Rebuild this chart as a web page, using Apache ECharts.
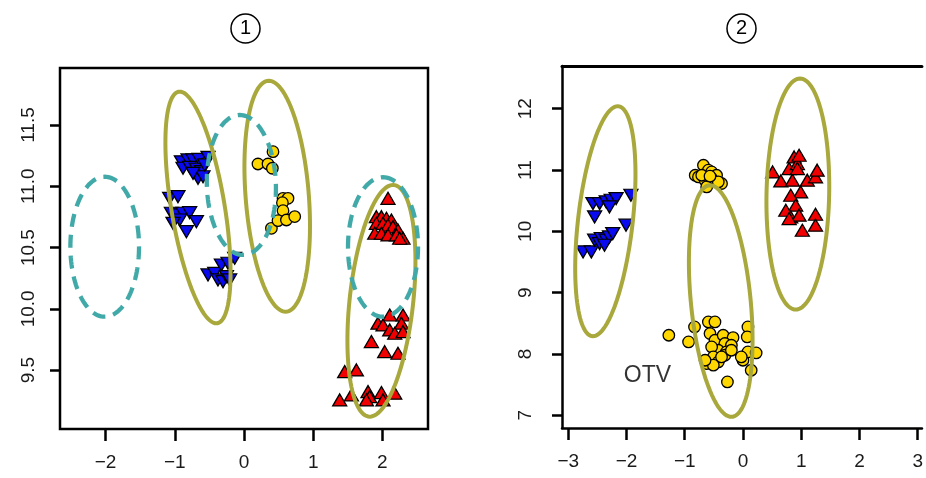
<!DOCTYPE html>
<html>
<head>
<meta charset="utf-8">
<script src="https://cdn.jsdelivr.net/npm/echarts@6/dist/echarts.min.js"></script>
<style>html,body{margin:0;padding:0;background:#fff;}#c{width:926px;height:478px;}</style>
</head>
<body>
<div id="c"></div>
<script>
// ---------- Panel 1 data ----------
const p1Blue = [
  [-0.905,11.20],[-0.809,11.215],[-0.737,11.215],[-0.650,11.22],[-0.520,11.236],
  [-0.881,11.147],[-0.785,11.155],[-0.688,11.139],[-0.616,11.119],[-0.665,11.065],
  [-0.592,11.078],[-0.737,11.106],[-0.568,11.174],
  [-1.074,10.902],[-0.954,10.915],[-1.049,10.78],[-0.977,10.766],[-0.881,10.78],
  [-0.785,10.785],[-0.688,10.711],[-0.832,10.63],[-0.929,10.725],[-1.026,10.698],
  [-0.520,10.277],[-0.423,10.29],[-0.327,10.358],[-0.231,10.372],[-0.134,10.413],
  [-0.376,10.236],[-0.303,10.222],[-0.254,10.263],[-0.207,10.236]
];
const p1Yellow = [
  [0.419,11.282],[0.202,11.182],[0.347,11.182],[0.410,11.147],
  [0.564,10.902],[0.636,10.902],[0.555,10.866],[0.564,10.801],
  [0.396,10.657],[0.491,10.72],[0.613,10.725],[0.733,10.753]
];
const p1Red = [
  [2.081,10.902],
  [1.913,10.752],[1.986,10.752],[2.058,10.739],[2.130,10.725],[1.913,10.698],
  [2.009,10.698],[2.081,10.684],[2.153,10.670],[2.225,10.644],[2.298,10.576],
  [1.889,10.617],[1.986,10.617],[2.081,10.603],[2.202,10.603],[2.250,10.576],
  [2.106,9.950],[2.298,9.950],[1.936,9.883],[2.009,9.869],[2.275,9.883],
  [2.106,9.828],[2.178,9.801],[2.298,9.814],[1.841,9.733],[2.033,9.651],[2.225,9.638],
  [1.455,9.488],[1.624,9.502],[1.383,9.257],[1.552,9.298],[1.792,9.325],
  [1.816,9.284],[1.986,9.317],[2.178,9.312],[2.009,9.257],[1.769,9.257]
];
// ellipses: [centerX, centerY, axisU_x, axisU_y, axisV_x, axisV_y]
const p1Solid = [
  [-0.665,10.827,-0.264,0.945,0.390,0],
  [0.480,10.919,-0.121,0.942,0.458,0],
  [1.986,10.066,0.168,0.945,0.462,0]
];
const p1Dashed = [
  [-2.013,10.507,0,0.571,0.496,0],
  [-0.038,11.011,-0.024,0.571,0.499,0],
  [2.009,10.505,0,0.569,0.506,0]
];
const p1XTicks = [-2,-1,0,1,2];
const p1YTicks = [9.5,10,10.5,11,11.5];

// ---------- Panel 2 data ----------
const p2Blue = [
  [-2.576,10.453],[-2.462,10.453],[-2.348,10.480],[-2.263,10.507],[-2.178,10.535],
  [-1.924,10.589],[-2.547,10.235],[-2.292,10.398],[-2.008,10.100],
  [-2.745,9.664],[-2.603,9.664],[-2.547,9.855],[-2.462,9.801],[-2.433,9.883],
  [-2.348,9.855],[-2.292,9.909],[-2.236,9.964],[-2.377,9.773]
];
const p2Yellow = [
  [-0.820,10.915],[-0.679,11.078],[-0.594,10.997],[-0.538,10.969],[-0.453,10.915],
  [-0.368,10.780],[-0.764,10.888],[-0.651,10.834],[-0.538,10.861],[-0.424,10.806],
  [-0.623,10.725],[-0.708,10.915],[-0.566,10.899],
  [-1.273,8.305],[-0.934,8.196],[-0.832,8.441],[-0.594,8.522],[-0.481,8.522],
  [-0.566,8.333],[-0.481,8.223],[-0.340,8.305],[-0.170,8.267],[-0.311,8.170],
  [-0.424,8.060],[-0.538,8.114],[-0.199,8.142],[-0.284,8.033],[-0.311,7.979],
  [-0.509,7.951],[-0.424,7.870],[-0.623,7.843],[-0.509,7.816],[-0.651,7.897],
  [0.000,7.897],[0.085,8.033],[0.085,8.441],[0.073,8.277],[0.226,8.016],
  [0.141,7.734],[-0.267,7.543],[-0.199,8.060],[-0.368,7.951],[-0.029,7.951]
];
const p2Red = [
  [0.509,10.969],[0.650,10.822],[0.793,11.024],[0.878,11.214],[0.934,11.106],
  [0.963,11.241],[0.849,10.834],[1.104,10.834],[1.245,10.888],[1.273,10.997],
  [0.990,10.643],[0.820,10.589],[0.905,10.426],[0.735,10.344],[0.820,10.235],
  [0.963,10.263],[1.245,10.279],[1.245,10.100],[1.019,10.018],[0.793,10.209],
  [0.934,11.024]
];
const p2Solid = [
  [-2.363,10.165,0.212,1.876,0.472,0],
  [-0.382,8.863,-0.183,1.889,0.515,0],
  [0.942,10.608,0.037,1.884,0.538,0]
];
const p2Label = [[-1.64,7.65,'OTV']];
const p2XTicks = [-3,-2,-1,0,1,2,3];
const p2YTicks = [7,8,9,10,11,12];
const titles = ['1','2'];

// ---------- styles ----------
const FONT = 'Liberation Sans';
const OLIVE = '#a8a83c';
const TEAL = '#42a9a9';
const LBL = '#1a1a1a';
const minus = v => String(v).replace('-', '\u2212');

function ellipseSeries(data, xi, dashed) {
  return {
    type: 'custom', xAxisIndex: xi, yAxisIndex: xi, data: data, z: 5,
    encode: {x: 0, y: 1}, silent: true,
    renderItem: function (params, api) {
      const cx = api.value(0), cy = api.value(1), ux = api.value(2), uy = api.value(3),
            vx = api.value(4), vy = api.value(5);
      const pts = [];
      const N = 120;
      for (let i = 0; i < N; i++) {
        const t = 2 * Math.PI * i / N;
        pts.push(api.coord([cx + ux * Math.cos(t) + vx * Math.sin(t), cy + uy * Math.cos(t) + vy * Math.sin(t)]));
      }
      return {
        type: 'polygon', shape: {points: pts},
        style: {fill: 'none', stroke: dashed ? TEAL : OLIVE, lineWidth: dashed ? 4.3 : 4,
                lineDash: dashed ? [13, 8] : null}
      };
    }
  };
}
function pointSeries(data, xi, kind) {
  const st = {borderColor: '#000', borderWidth: 1.3, opacity: 1};
  const base = {type: 'scatter', xAxisIndex: xi, yAxisIndex: xi, data: data, z: 3, silent: true};
  if (kind === 'blue') Object.assign(base, {symbol: 'triangle', symbolRotate: 180, symbolSize: [14, 12], itemStyle: Object.assign(st, {color: '#0a0af0'})});
  if (kind === 'red') Object.assign(base, {symbol: 'triangle', symbolSize: [14, 12], itemStyle: Object.assign(st, {color: '#f00000'})});
  if (kind === 'yellow') Object.assign(base, {symbol: 'circle', symbolSize: 11.5, itemStyle: Object.assign(st, {color: '#ffd700'})});
  return base;
}
function xAx(gi, min, max, ticks, lineShow) {
  return {gridIndex: gi, type: 'value', min: min, max: max, splitLine: {show: false},
    axisLine: {show: lineShow, onZero: false, lineStyle: {color: '#000', width: 2.5}},
    axisTick: {show: true, length: 12, lineStyle: {color: '#000', width: 2.5}, customValues: ticks},
    axisLabel: {color: LBL, fontFamily: FONT, fontSize: 19, margin: 24, customValues: ticks,
      formatter: v => minus(v)}};
}
function yAx(gi, min, max, ticks, fmt, margin, lineShow) {
  return {gridIndex: gi, type: 'value', min: min, max: max, splitLine: {show: false},
    axisLine: {show: lineShow, onZero: false, lineStyle: {color: '#000', width: 2.5}},
    axisTick: {show: true, length: 10, lineStyle: {color: '#000', width: 2.5}, customValues: ticks},
    axisLabel: {color: LBL, fontFamily: FONT, fontSize: 19, margin: margin, rotate: 90, customValues: ticks,
      formatter: fmt}};
}
function titleItem(txt, left) {
  return {text: '{c|' + txt + '}', left: left, top: 9,
    textStyle: {rich: {c: {width: 29, height: 29, lineHeight: 29, align: 'center', verticalAlign: 'middle',
      borderRadius: 15, borderColor: '#000', borderWidth: 1.5, fontSize: 20, fontWeight: 'normal',
      fontFamily: FONT, color: '#000'}}}};
}

const chart = echarts.init(document.getElementById('c'), null, {renderer: 'canvas'});
chart.setOption({
  animation: false,
  backgroundColor: '#fff',
  title: [titleItem(titles[0], 226), titleItem(titles[1], 722)],
  grid: [
    {left: 60, top: 68, width: 368, height: 361, show: true, borderColor: '#000', borderWidth: 2.5, backgroundColor: 'transparent'},
    {left: 562, top: 66, right: 0, height: 362, show: false}
  ],
  xAxis: [
    xAx(0, -2.659, 2.659, p1XTicks, false),
    xAx(1, -3.107, 3.073, p2XTicks, true),
    {gridIndex: 1, type: 'value', position: 'top', min: -3.107, max: 3.073,
      axisLine: {show: true, onZero: false, lineStyle: {color: '#000', width: 3}},
      axisTick: {show: false}, axisLabel: {show: false}, splitLine: {show: false}}
  ],
  yAxis: [
    yAx(0, 9.020, 11.965, p1YTicks, v => v.toFixed(1), 22, false),
    yAx(1, 6.792, 12.697, p2YTicks, v => String(v), 27, true)
  ],
  series: [
    pointSeries(p1Blue, 0, 'blue'),
    pointSeries(p1Yellow, 0, 'yellow'),
    pointSeries(p1Red, 0, 'red'),
    ellipseSeries(p1Solid, 0, false),
    ellipseSeries(p1Dashed, 0, true),
    pointSeries(p2Blue, 1, 'blue'),
    pointSeries(p2Yellow, 1, 'yellow'),
    pointSeries(p2Red, 1, 'red'),
    ellipseSeries(p2Solid, 1, false),
    {type: 'scatter', xAxisIndex: 1, yAxisIndex: 1, data: p2Label, symbolSize: 1, silent: true,
      itemStyle: {color: 'transparent'},
      label: {show: true, position: 'inside', formatter: p => p.data[2], color: '#000', fontFamily: FONT, fontSize: 23}}
  ]
});
</script>
</body>
</html>
